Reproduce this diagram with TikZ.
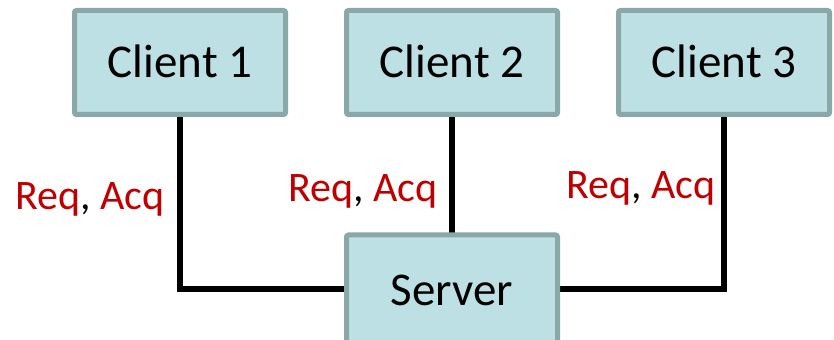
\documentclass[tikz,border=0pt]{standalone}
\usepackage{fontspec}
\setmainfont{Carlito}
\definecolor{boxfill}{HTML}{BCE0E3}
\definecolor{boxline}{HTML}{8BA8A9}
\definecolor{msgred}{HTML}{C00000}
\begin{document}
\begin{tikzpicture}[x=0.5pt,y=-0.5pt,
  unit/.style={draw=boxline, fill=boxfill, line width=2.5pt, rounded corners=1pt,
    minimum width=105.5pt, minimum height=52pt, inner sep=0pt,
    font=\fontsize{23.5}{28}\selectfont, text height=15.1pt, text depth=0pt},
  wire/.style={line width=3pt, line join=miter},
  msg/.style={font=\fontsize{21}{25}\selectfont, inner sep=0pt, text height=13.5pt, text depth=0pt}]
  \useasboundingbox (0,0) rectangle (834,340);
  \begin{scope}
    \clip (0,0) rectangle (834,340);
    % wires run beneath the boxes
    \coordinate (c1) at (180,112);
    \coordinate (c2) at (452,112);
    \coordinate (c3) at (724,112);
    \coordinate (s1) at (350,289);
    \coordinate (s2) at (452,240);
    \coordinate (s3) at (554,289);
    \draw[wire] (c1) |- (s1);
    \draw[wire] (c2) -- (s2);
    \draw[wire] (c3) |- (s3);
    % clients and server
    \node[unit] (client1) at (180,62.5) {Client 1};
    \node[unit] (client2) at (452,62.5) {Client 2};
    \node[unit] (client3) at (724,62.5) {Client 3};
    \node[unit, minimum height=55pt] (server) at (452,290) {Server};
    % message labels
    \node[msg] (m1) at (90,196) {\textcolor{msgred}{Req}, \textcolor{msgred}{Acq}};
    \node[msg] (m2) at (363,188) {\textcolor{msgred}{Req}, \textcolor{msgred}{Acq}};
    \node[msg] (m3) at (641,185) {\textcolor{msgred}{Req}, \textcolor{msgred}{Acq}};
  \end{scope}
\end{tikzpicture}
\end{document}
